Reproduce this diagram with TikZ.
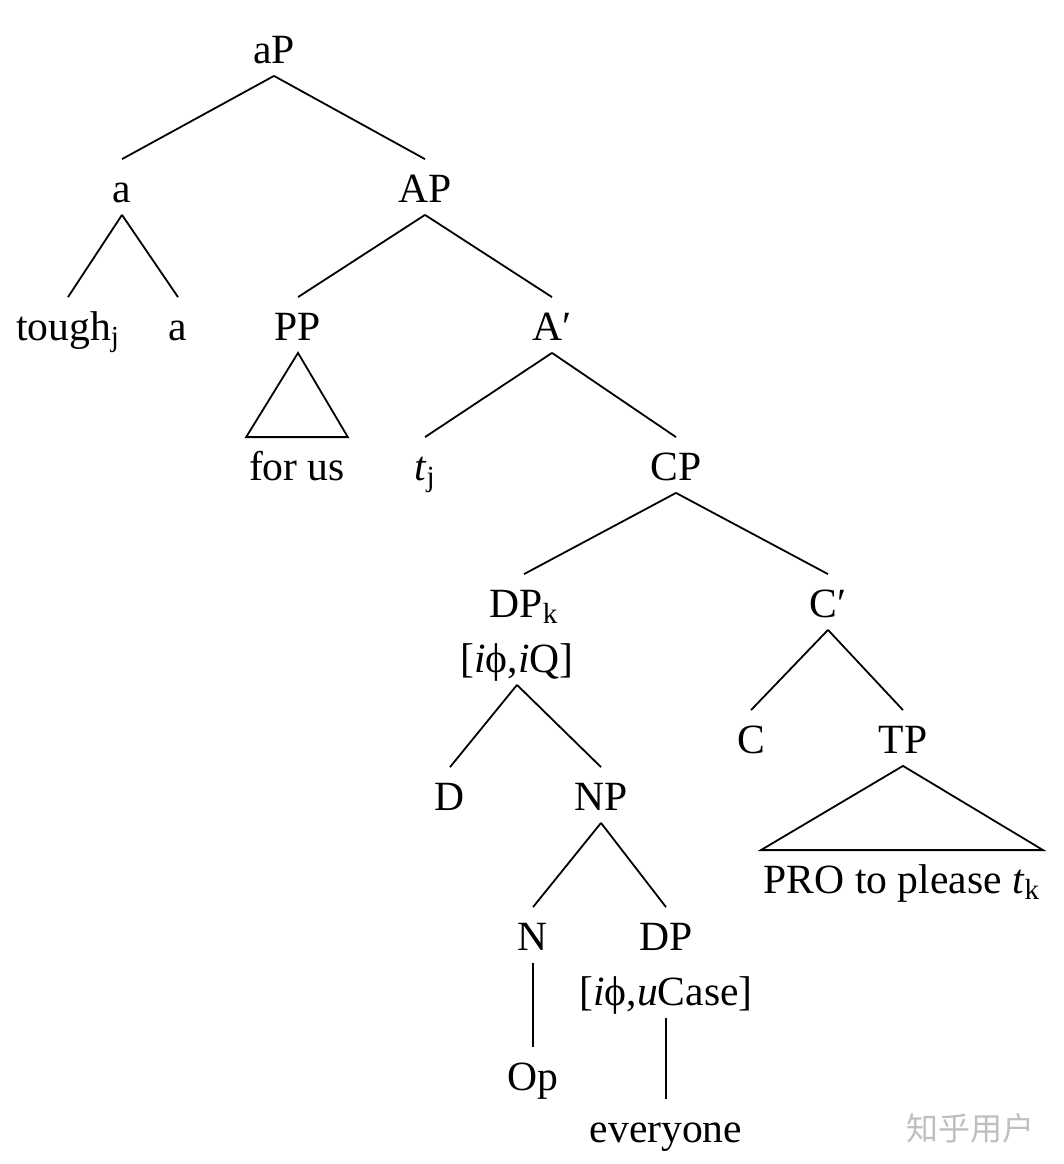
\documentclass[tikz,border=0pt]{standalone}
\usepackage{fontspec}
\setmainfont{Liberation Serif}
\newfontfamily\cjk{Noto Sans CJK SC}

\begin{document}
\begin{tikzpicture}[x=0.5pt, y=-0.5pt, line width=0.9pt, font=\fontsize{20.8}{24}\selectfont,
    every node/.style={anchor=base, text height=15pt, text depth=0pt, inner xsep=1pt, inner ysep=6pt}]
    \useasboundingbox (0,0) rectangle (1064,1164);
    \node (aP) at (274,63) {aP};
    \node (a) at (122,202) {a};
    \node (AP) at (425,202) {AP};
    \node (tough) at (68,340) {tough\textsubscript{j}};
    \node (a0) at (178,340) {a};
    \node (PP) at (298,340) {PP};
    \node (Abar) at (552,340) {A′};
    \node (forus) at (297,480) {for us};
    \node (tj) at (425,480) {\textit{t}\textsubscript{j}};
    \node (CP) at (676,480) {CP};
    \node (DPk) at (524,617) {DP\textsubscript{k}};
    \node (DPkf) at (517,672) {[\textit{i}ϕ,\textit{i}Q]};
    \node (Cbar) at (828,617) {C′};
    \node (C) at (751,753) {C};
    \node (TP) at (903,753) {TP};
    \node (pro) at (902,893) {PRO to please \textit{t}\textsubscript{k}};
    \node (D) at (450,810) {D};
    \node (NP) at (601,810) {NP};
    \node (N) at (533,950) {N};
    \node (DP) at (666,950) {DP};
    \node (DPf) at (666,1005) {[\textit{i}ϕ,\textit{u}Case]};
    \node (Op) at (533,1090) {Op};
    \node (every) at (666,1142) {everyone};
    \node[text=black!25, font=\cjk\fontsize{16}{16}\selectfont] (wm) at (970,1140) {知乎用户};
    \draw (aP.south) -- (a.north); \draw (aP.south) -- (AP.north);
    \draw (a.south) -- (tough.north); \draw (a.south) -- (a0.north);
    \draw (AP.south) -- (PP.north); \draw (AP.south) -- (Abar.north);
    \draw (PP.south) -- (forus.north west) -- (forus.north east) -- cycle;
    \draw (Abar.south) -- (tj.north); \draw (Abar.south) -- (CP.north);
    \draw (CP.south) -- (DPk.north); \draw (CP.south) -- (Cbar.north);
    \draw (DPkf.south) -- (D.north); \draw (DPkf.south) -- (NP.north);
    \draw (Cbar.south) -- (C.north); \draw (Cbar.south) -- (TP.north);
    \draw (TP.south) -- (pro.north west) -- (pro.north east) -- cycle;
    \draw (NP.south) -- (N.north); \draw (NP.south) -- (DP.north);
    \draw (N.south) -- (Op.north);
    \draw (DPf.south) -- (every.north);
  \end{tikzpicture}
\end{document}
